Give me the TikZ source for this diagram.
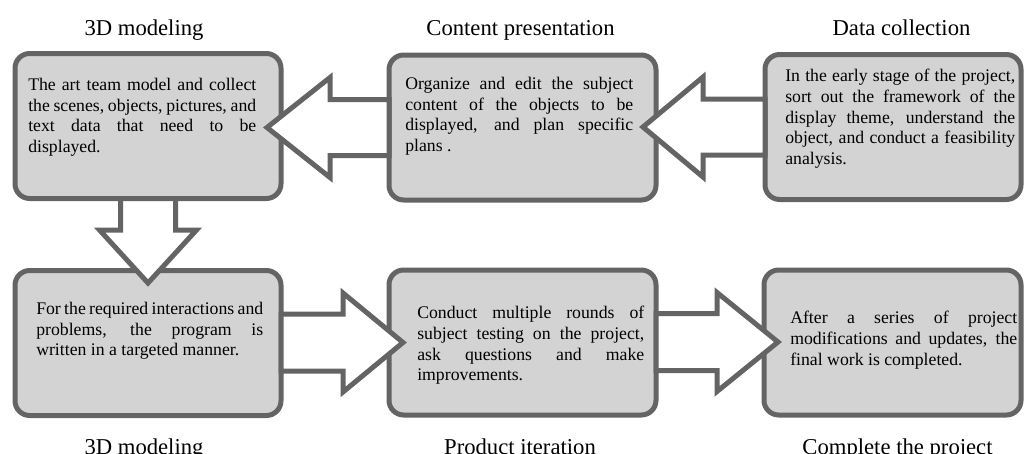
\documentclass[tikz,border=0pt]{standalone}
\usepackage{fontspec}
\setmainfont{Liberation Serif}
\usepackage{tikz}
\usetikzlibrary{calc}
\usetikzlibrary{positioning}
\definecolor{edgegray}{RGB}{100,100,100}
\definecolor{boxfill}{RGB}{211,211,211}

\begin{document}
\begin{tikzpicture}[x=0.75pt, y=-0.75pt]
	\tikzstyle{box}=[rectangle, draw=edgegray, fill=boxfill, line width=3.75pt,
	                        rounded corners=11pt, outer sep=0pt, minimum height=145*0.75pt];
	\tikzstyle{txt}=[anchor=north west, inner sep=0pt, align=justify,
	                        font=\fontsize{13.3}{15.5}\selectfont];
	\tikzstyle{bigarrow}=[draw=edgegray, fill=white, line width=3.75pt];
	\tikzstyle{head}=[anchor=base, font=\fontsize{17}{20}\selectfont];
	\useasboundingbox (0,0) rectangle (1026,454);
	\foreach \n/\x/\y/\w in {b1/148/126/266, b2/522.5/127.5/267, b3/893/127/256,
	                         b4/148/343/266, b5/522.5/342.5/267, b6/892.5/342.5/257}
	{\node[box, minimum width=\w*0.75pt] (\n) at (\x,\y) {};}
	% block arrows
	\draw[bigarrow] ($(b2.west)+(0,-28)$) -- ++(-59,0) -- ++(0,-22) -- ++(-63,50)
	  -- ++(63,50) -- ++(0,-22) -- ++(59,0) -- cycle;
	\draw[bigarrow] ($(b3.west)+(0,-28)$) -- ++(-62,0) -- ++(0,-22) -- ++(-60,50)
	  -- ++(60,50) -- ++(0,-22) -- ++(62,0) -- cycle;
	\draw[bigarrow] ($(b1.south)+(-27.5,0)$) -- ++(0,31.5) -- ++(-21,0) -- ++(48.5,53)
	  -- ++(48.5,-53) -- ++(-21,0) -- ++(0,-31.5) -- cycle;
	\draw[bigarrow] ($(b4.east)+(0,-29)$) -- ++(62,0) -- ++(0,-21) -- ++(60,49.5)
	  -- ++(-60,49.5) -- ++(0,-21) -- ++(-62,0) -- cycle;
	\draw[bigarrow] ($(b5.east)+(0,-29)$) -- ++(61,0) -- ++(0,-21) -- ++(61,49.5)
	  -- ++(-61,49.5) -- ++(0,-21) -- ++(-61,0) -- cycle;
	% texts in the boxes
	\node[txt, text width=228*0.75pt] (t1) at (28,78)
	  {The art team model and collect\linebreak the scenes, objects, pictures, and\linebreak
	   text data that need to be\linebreak displayed.};
	\node[txt, text width=228*0.75pt] (t2) at (405,77)
	  {Organize and edit the subject\linebreak content of the objects to be\linebreak
	   displayed, and plan specific\linebreak plans .};
	\node[txt, text width=230*0.75pt] (t3) at (785,69)
	  {In the early stage of the project,\linebreak sort out the framework of the\linebreak
	   display theme, understand the\linebreak object, and conduct a feasibility\linebreak analysis.};
	\node[txt, text width=227*0.75pt] (t4) at (36,302)
	  {For the required interactions and\linebreak problems, the program is\linebreak
	   written in a targeted manner.};
	\node[txt, text width=227*0.75pt] (t5) at (417,306)
	  {Conduct multiple rounds of\linebreak subject testing on the project,\linebreak
	   ask questions and make\linebreak improvements.};
	\node[txt, text width=227*0.75pt] (t6) at (790,311)
	  {After a series of project\linebreak modifications and updates, the\linebreak
	   final work is completed.};
	% stage names
	\node[head] (h1) at (144,35) {3D modeling};
	\node[head] (h2) at (520.5,35) {Content presentation};
	\node[head] (h3) at (901.5,35) {Data collection};
	\node[head] (h4) at (144,454) {3D modeling};
	\node[head] (h5) at (520,454) {Product iteration};
	\node[head] (h6) at (897.5,454) {Complete the project};
\end{tikzpicture}
\end{document}
